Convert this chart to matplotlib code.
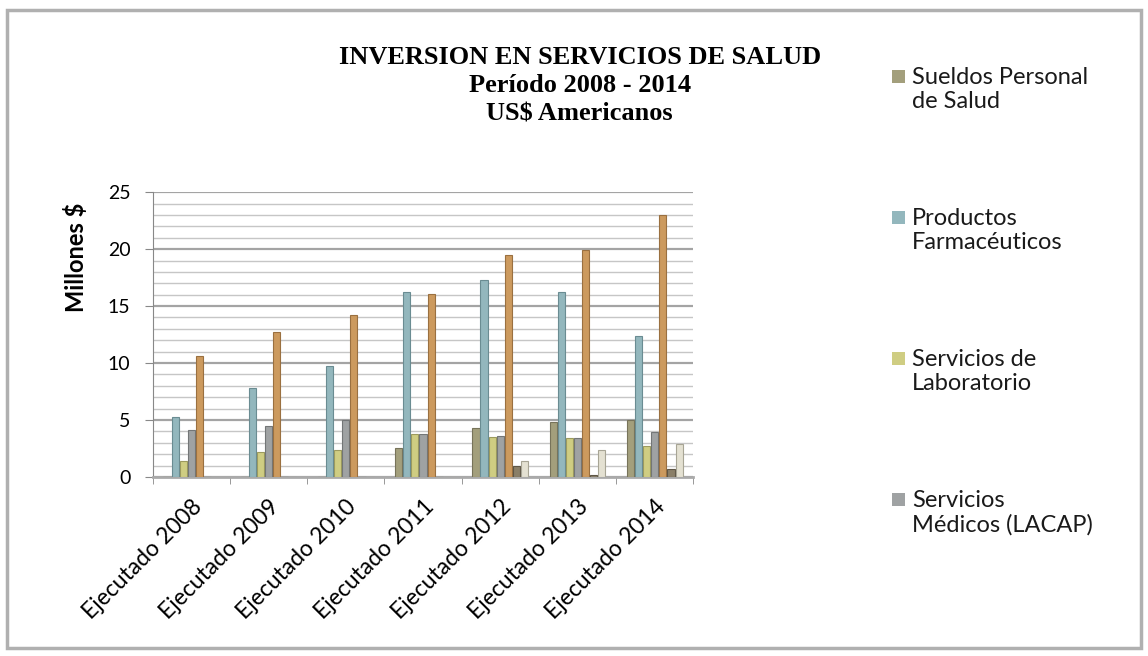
import matplotlib
matplotlib.use("Agg")
from matplotlib import pyplot as plt
from matplotlib.patches import Rectangle
import numpy as np

categories = ["Ejecutado 2008", "Ejecutado 2009", "Ejecutado 2010", "Ejecutado 2011",
              "Ejecutado 2012", "Ejecutado 2013", "Ejecutado 2014"]

sueldos = [0, 0, 0, 2.5, 4.3, 4.8, 5.0]
farmaceuticos = [5.3, 7.8, 9.7, 16.2, 17.3, 16.2, 12.4]
laboratorio = [1.4, 2.2, 2.4, 3.8, 3.5, 3.4, 2.7]
medicos = [4.1, 4.5, 5.0, 3.8, 3.6, 3.4, 3.9]
serie5 = [10.6, 12.7, 14.2, 16.1, 19.5, 19.9, 23.0]
serie6 = [0, 0, 0, 0, 1.0, 0.2, 0.7]
serie7 = [0, 0, 0, 0, 1.4, 2.4, 2.9]

series = [
    ("Sueldos Personal\nde Salud", sueldos, "#a39f7c", "#77735a"),
    ("Productos\nFarmacéuticos", farmaceuticos, "#93b7bd", "#6a8c92"),
    ("Servicios de\nLaboratorio", laboratorio, "#cfcd82", "#9c9a5e"),
    ("Servicios\nMédicos (LACAP)", medicos, "#9fa2a3", "#737677"),
    ("Serie 5", serie5, "#cc9a5e", "#9a7040"),
    ("Serie 6", serie6, "#8a7f68", "#5e5646"),
    ("Serie 7", serie7, "#e4e1d2", "#a8a595"),
]

plt.rcParams['font.family'] = ['Lato', 'DejaVu Sans']

W, H = 1148, 656
fig = plt.figure(figsize=(W / 100, H / 100), dpi=100)
fig.patches.append(Rectangle((0.006, 0.012), 0.988, 0.972, transform=fig.transFigure,
                             fill=False, edgecolor="#b0b0b0", linewidth=2.5))

ax = fig.add_axes([0.133, 0.273, 0.471, 0.434])

x = np.arange(len(categories))
w = 0.105
for i, (name, vals, col, edge) in enumerate(series):
    ax.bar(x + (i - 3) * w, vals, w * 0.88, color=col, edgecolor=edge,
           linewidth=0.8, label=name, zorder=3)

ax.set_ylim(0, 25)
ax.set_xlim(-0.5, 6.5)
ax.set_yticks(range(0, 26, 5))
ax.set_yticks(range(0, 26, 1), minor=True)
ax.grid(axis="y", which="minor", color="#c6c6c6", linewidth=1.0, zorder=0)
ax.grid(axis="y", which="major", color="#a4a4a4", linewidth=1.6, zorder=0)

ax.set_xticks(x)
ax.set_xticklabels(categories, rotation=45, ha="right", rotation_mode="anchor", fontsize=16.5)
ax.set_xticks(np.arange(-0.5, 7, 1), minor=True)
ax.tick_params(axis="x", which="major", length=0, pad=14)
ax.tick_params(axis="x", which="minor", length=5, color="#888888")
ax.tick_params(axis="y", which="major", labelsize=14, length=6, color="#888888", pad=10)
ax.tick_params(axis="y", which="minor", length=0)

for s in ["top", "right"]:
    ax.spines[s].set_visible(False)
ax.spines["left"].set_color("#888888")
ax.spines["bottom"].set_color("#aaaaaa")
ax.spines["bottom"].set_linewidth(2)

ax.set_ylabel("Millones $", fontsize=17, fontweight="bold")
ax.yaxis.set_label_coords(-0.12, 0.77)

fig.text(0.505, 1 - 46 / H, "INVERSION EN SERVICIOS DE SALUD\nPeríodo 2008 - 2014\nUS$ Americanos",
         ha="center", va="top", fontsize=19, fontweight="bold",
         family=["Liberation Serif", "DejaVu Serif"], linespacing=1.28)

# legend (only the first four entries are visible in the original)
for k, (name, vals, col, edge) in enumerate(series[:4]):
    top = 70 + k * 141
    fig.patches.append(Rectangle((892 / W, 1 - (top + 13) / H), 13 / W, 13 / H,
                                 transform=fig.transFigure, facecolor=col, edgecolor="none"))
    fig.text(912 / W, 1 - (top - 3) / H, name, ha="left", va="top", fontsize=17,
             color="#1a1a1a", linespacing=1.2)

fig.savefig("out.png", dpi=100)
